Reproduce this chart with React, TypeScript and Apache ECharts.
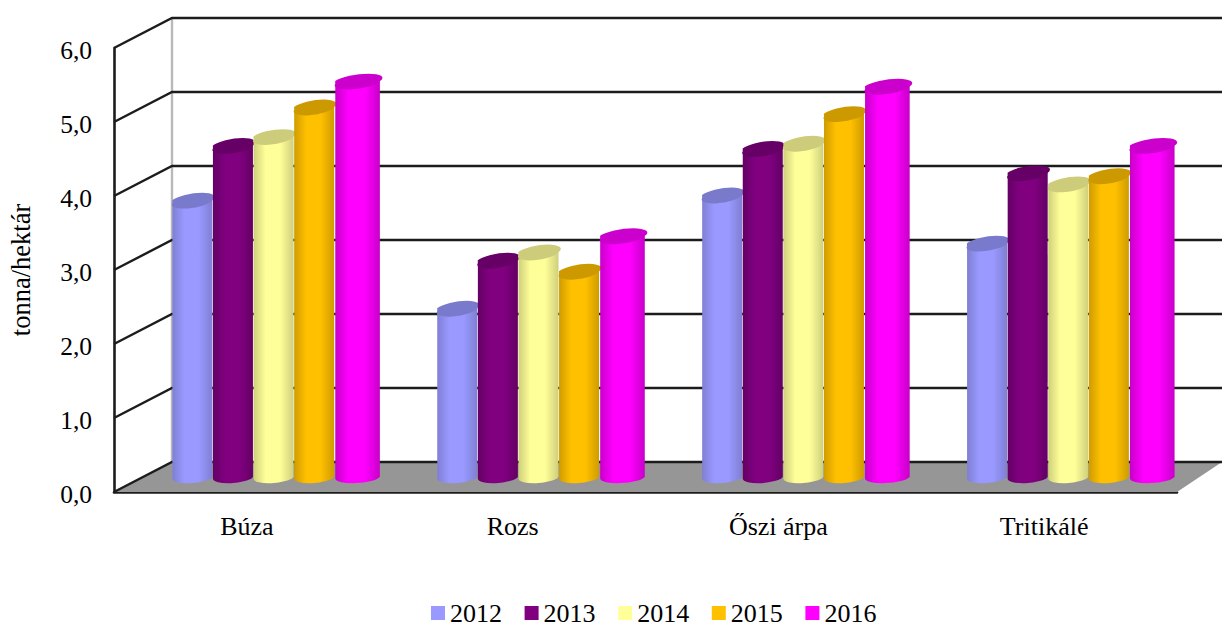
import React, { useEffect, useRef } from "react";
import * as echarts from "echarts";

const categories = ["Búza", "Rozs", "Őszi árpa", "Tritikálé"];
const years = ["2012", "2013", "2014", "2015", "2016"];
const values2012 = [3.74, 2.28, 3.81, 3.16];
const values2013 = [4.48, 2.93, 4.44, 4.11];
const values2014 = [4.6, 3.04, 4.51, 3.96];
const values2015 = [5.0, 2.78, 4.91, 4.07];
const values2016 = [5.35, 3.26, 5.28, 4.48];
const allValues = [values2012, values2013, values2014, values2015, values2016];
const colors = ["#9999FF", "#800080", "#FFFF99", "#FFC000", "#FF00FF"];
const capColors = ["#7A7ACC", "#660066", "#CCCC7A", "#CC9A00", "#CC00CC"];
const edgeColors = ["#7F7FD4", "#640064", "#CFCF7C", "#CF9C00", "#C800C8"];
const ticks = [0, 1, 2, 3, 4, 5, 6];

const FONT = "'Liberation Serif', 'Times New Roman', serif";
const INK = "#1c1c1c";
const DEPTH_X = 58;
const DEPTH_Y = 30;

function cylinderItem(k: number) {
  return (params: any, api: any) => {
    const i = api.value(0);
    const top = api.coord([i, api.value(1)]);
    const base = api.coord([i, 0]);
    const band = api.size([1, 0])[0];
    const step = band * 0.1528;
    const w = k === 4 ? step + 4 : step - 0.6;
    const x0 = top[0] + DEPTH_X / 2 - 2 - i * 0.85 - 2.5 * step + k * step + (k === 4 ? 0.5 : 0);
    const x1 = x0 + w;
    const yT = top[1] - DEPTH_Y / 2;
    const yB = base[1] - DEPTH_Y / 2;
    const rx = w / 2 + 0.4;
    const ry = 6;
    const tiltT = 6;
    const tiltB = 3.5;
    const rotT = (Math.atan2(-tiltT, w) * 180) / Math.PI;
    const rotB = (Math.atan2(-tiltB, w) * 180) / Math.PI;
    const c = colors[k];
    const body = `M${x0} ${yT + tiltT / 2} L${x0} ${yB + tiltB / 2} A${rx} ${ry} ${rotB} 0 0 ${x1} ${yB - tiltB / 2} L${x1} ${yT - tiltT / 2} Z`;
    const cap = `M${x0} ${yT + tiltT / 2} A${rx} ${ry} ${rotT} 0 0 ${x1} ${yT - tiltT / 2} A${rx} ${ry} ${rotT} 0 0 ${x0} ${yT + tiltT / 2} Z`;
    return {
      type: "group",
      children: [
        {
          type: "path",
          shape: { pathData: body },
          style: {
            fill: new echarts.graphic.LinearGradient(0, 0, 1, 0, [
              { offset: 0, color: edgeColors[k] },
              { offset: 0.3, color: c },
              { offset: 0.66, color: c },
              { offset: 1, color: edgeColors[k] },
            ]),
          },
        },
        { type: "path", shape: { pathData: cap }, style: { fill: capColors[k] } },
      ],
    };
  };
}

function wallItem(params: any, api: any) {
  const v = api.value(0);
  const cs = params.coordSys;
  const p = api.coord([0, v]);
  const xF = cs.x;
  const y = p[1];
  const xB = xF + DEPTH_X;
  const yB = y - DEPTH_Y;
  const W = api.getWidth();
  const children: any[] = [];
  if (v === 0) {
    children.push({
      type: "polygon",
      shape: { points: [[xF, y], [xB, yB], [W, yB], [xF + cs.width, y]] },
      style: { fill: "#969696" },
    });
    children.push({
      type: "line",
      shape: { x1: xB, y1: yB, x2: xB, y2: cs.y - DEPTH_Y },
      style: { stroke: "#b9b9b9", lineWidth: 2.4 },
    });
  }
  children.push({
    type: "polyline",
    shape: { points: [[xF, y], [xB, yB], [W, yB]] },
    style: { stroke: INK, lineWidth: 2.4, fill: "none" },
  });
  return { type: "group", children };
}

export default function App() {
  const ref = useRef<HTMLDivElement>(null);
  useEffect(() => {
    const chart = echarts.init(ref.current!, null, { renderer: "svg" });
    chart.setOption({
      animation: false,
      backgroundColor: "#ffffff",
      textStyle: { fontFamily: FONT },
      grid: { left: 114, top: 48, width: 1063, height: 444, containLabel: false, outerBoundsMode: "none" },
      legend: {
        data: years,
        left: 431,
        top: 600,
        padding: 0,
        itemWidth: 14,
        itemHeight: 14,
        itemGap: 22.6,
        icon: "rect",
        textStyle: { fontFamily: FONT, fontSize: 26, color: "#000" },
      },
      xAxis: {
        type: "category",
        data: categories,
        axisTick: { show: false },
        axisLine: { show: true, lineStyle: { color: INK, width: 2.6 } },
        axisLabel: { fontFamily: FONT, fontSize: 26, color: "#000", margin: 21 },
      },
      yAxis: {
        type: "value",
        min: 0,
        max: 6,
        interval: 1,
        name: "tonna/hektár",
        nameLocation: "middle",
        nameRotate: 90,
        nameGap: 80,
        nameTextStyle: { fontFamily: FONT, fontSize: 26.5, color: "#000" },
        splitLine: { show: false },
        axisTick: { show: false },
        axisLine: { show: true, lineStyle: { color: INK, width: 2.6 } },
        axisLabel: {
          color: "#000",
          margin: 22,
          formatter: (v: number) => "{t|" + v.toFixed(1).replace(".", ",") + "}",
          rich: {
            t: { fontFamily: FONT, fontSize: 25.5, color: "#000", padding: [5, 0, 0, 0] },
          },
        },
      },
      series: [
        {
          type: "custom",
          name: "walls",
          coordinateSystem: "cartesian2d",
          clip: false,
          silent: true,
          z: 1,
          encode: { y: 0 },
          data: ticks.map((t) => [t]),
          renderItem: wallItem,
        },
        ...years.map((y, k) => ({
          type: "custom",
          name: y,
          coordinateSystem: "cartesian2d",
          clip: false,
          z: 3 + k,
          itemStyle: { color: colors[k] },
          encode: { x: 0, y: 1 },
          data: allValues[k].map((v, i) => [i, v]),
          renderItem: cylinderItem(k),
        })),
      ],
    });
    return () => chart.dispose();
  }, []);
  return <div ref={ref} style={{ position: "absolute", left: 0, top: 0, width: 1222, height: 626 }} />;
}
